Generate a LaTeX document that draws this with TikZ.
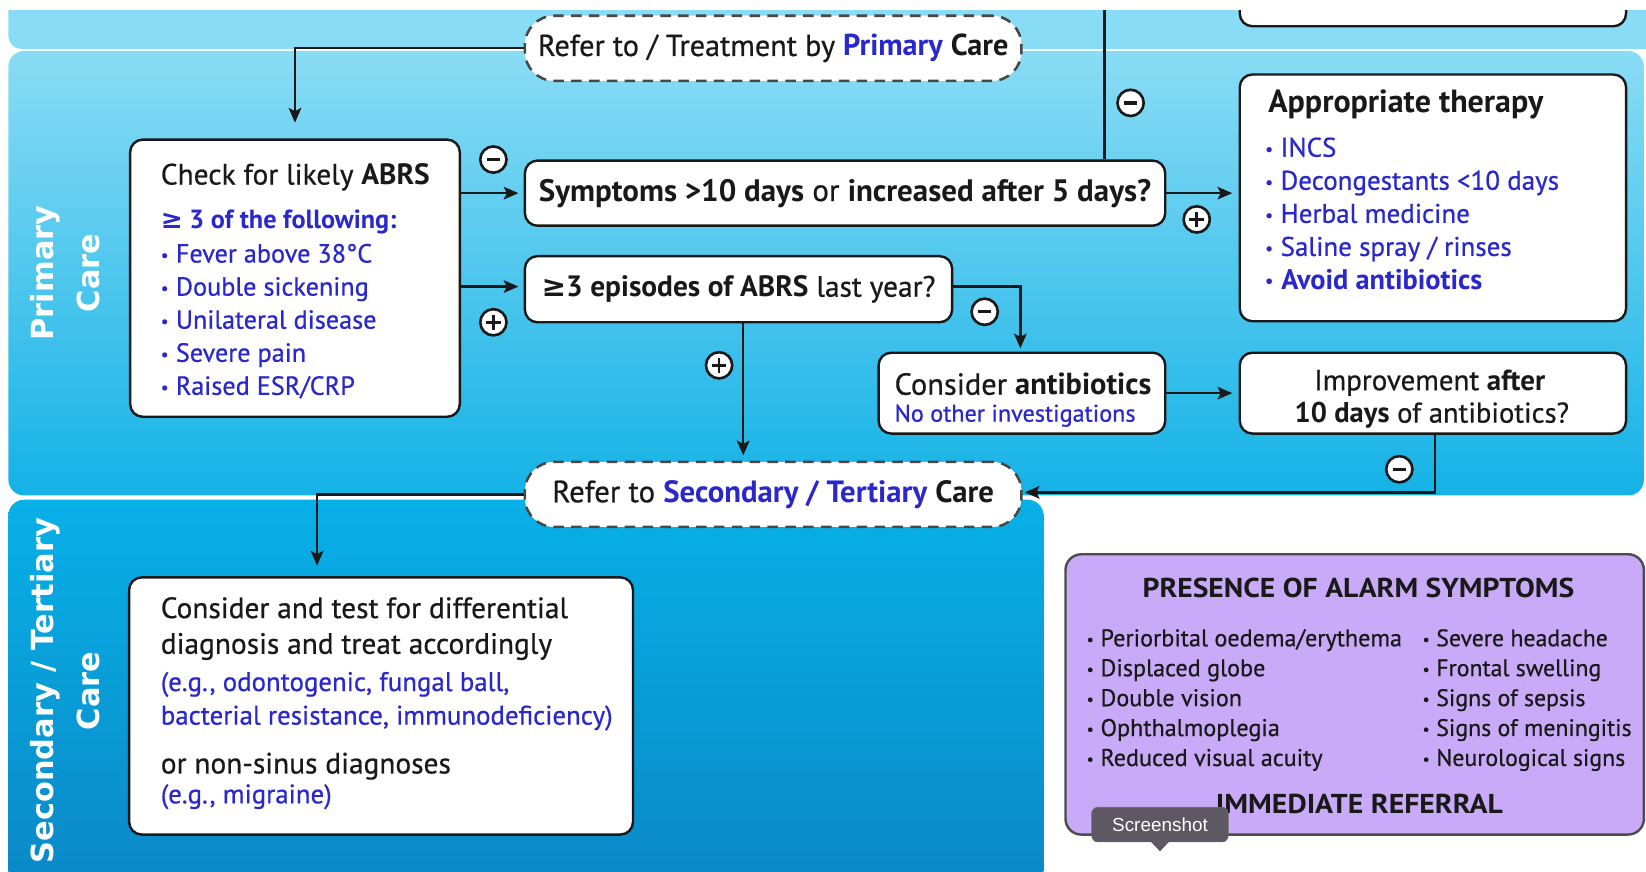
\documentclass[tikz,border=0pt]{standalone}
\usepackage{fontspec}
\usepackage{graphicx}
\setmainfont{PT Sans}[UprightFeatures={FakeBold=0.6}]
\newfontfamily\sidefont{DejaVu Sans}
\newfontfamily\symf{DejaVu Sans}
\newfontfamily\tipfont{Liberation Sans}
\usetikzlibrary{arrows.meta,calc}
\definecolor{blueT}{RGB}{42,40,205}
\definecolor{topblue}{RGB}{136,220,245}
\definecolor{pTop}{RGB}{138,220,245}
\definecolor{pBot}{RGB}{20,178,230}
\definecolor{sTop}{RGB}{8,176,232}
\definecolor{sBot}{RGB}{10,134,196}
\definecolor{purp}{RGB}{200,170,248}
\definecolor{tipgray}{RGB}{94,88,98}
\definecolor{ink}{RGB}{25,25,25}
\newcommand\fs[1]{\fontsize{#1}{#1}\selectfont}
\newcommand\bul{\raisebox{0.06em}{\scalebox{0.65}{•}}\hspace{0.28em}}
\newcommand\gesym{{\symf ≥}}
\begin{document}
\begin{tikzpicture}[x=1pt,y=-1pt,
  box/.style={draw=ink, line width=2.3pt, rounded corners=12pt, fill=white, inner sep=0pt},
  pill/.style={draw=black!72, line width=2.4pt, dash pattern=on 10pt off 7pt, rounded corners=28pt, fill=white, inner sep=0pt, text=ink},
  conn/.style={draw=ink, line width=2.3pt, -{Stealth[length=14pt,width=12pt,inset=3pt]}},
  plainline/.style={draw=ink, line width=2.3pt},
  sign/.style={circle, draw=ink, line width=2.5pt, fill=white, minimum size=25pt, inner sep=0pt},
  T/.style={inner sep=0pt, anchor=west, text=ink, font=\fs{#1}, text height={0.7*#1pt}, text depth={0.25*#1pt}, yshift=-3.5pt},
  T/.default=28,
  side/.style={font=\sidefont\bfseries\fontsize{29}{44}\selectfont, text=white, rotate=90, inner sep=0pt, align=center},
]
\useasboundingbox (0,0) rectangle (1568,830);
\clip (0,0) rectangle (1568,830);
% ---------- background bands
\begin{scope}
\clip (0,10) rectangle (1568,830);
\fill[topblue, rounded corners=12pt] (8,-30) rectangle (1600,46.5);
\end{scope}
\shade[top color=pTop, bottom color=pBot, rounded corners=15pt] (8,48.5) rectangle (1566,472);
\shade[top color=sTop, bottom color=sBot, rounded corners=15pt] (8,476) rectangle (994,870);
% cut box at the top right
\begin{scope}
\clip (0,10) rectangle (1568,830);
\node[box, minimum width=368, minimum height=60] (prev) at (1365,-5) {};
\end{scope}
% ---------- side labels
\node[side] (lprim) at (62,260) {Primary\\Care};
\node[side] (lsec) at (62,658) {Secondary / Tertiary\\Care};
% ---------- boxes
\node[pill, minimum width=473, minimum height=62, font=\fs{28.8}] (ref1) at (736.5,46) {Refer to / Treatment by \textbf{\color{blueT}Primary} \textbf{Care}};
\node[box, minimum width=314, minimum height=264] (check) at (281,265) {};
\node[box, minimum width=610, minimum height=62, font=\fs{29.5}, text=ink] (symp) at (805,184) {\textbf{Symptoms >10 days} or \textbf{increased after 5 days?}};
\node[box, minimum width=407, minimum height=63, font=\fs{28}, text=ink] (epi) at (703.5,275.5) {\textbf{\gesym3 episodes of ABRS} last year?};
\node[box, minimum width=368, minimum height=235] (ther) at (1365,188.5) {};
\node[box, minimum width=273, minimum height=77] (abx) at (973.5,374.5) {};
\node[box, minimum width=368, minimum height=77] (impr) at (1365,374.5) {};
\node[pill, minimum width=473, minimum height=62, font=\fs{29.3}] (ref2) at (736.5,471) {Refer to \textbf{\color{blueT}Secondary / Tertiary} \textbf{Care}};
\node[box, minimum width=480, minimum height=245] (diff) at (363,672.5) {};
\node[box, draw=black!70, fill=purp, rounded corners=15pt, minimum width=551, minimum height=267] (alarm) at (1290.5,661.5) {};
% ---------- texts: check
\node[T] (c0) at (153,166) {Check for likely \textbf{ABRS}};
\node[T=25, text=blueT] (c1) at (153,209) {\textbf{\gesym\ 3 of the following:}};
\foreach \t [count=\i] in {Fever above 38°C, Double sickening, Unilateral disease, Severe pain, Raised ESR/CRP}
  \node[T=25, text=blueT] (cb\i) at (153,{241+31.5*(\i-1)}) {\bul\t};
% therapy
\node[T=30.5] (t0) at (1208,97) {\textbf{Appropriate therapy}};
\foreach \t [count=\i] in {INCS, Decongestants <10 days, Herbal medicine, Saline spray / rinses}
  \node[T=25.7, text=blueT] (tb\i) at (1205,{140+31.5*(\i-1)}) {\bul\t};
\node[T=27, text=blueT] (tb5) at (1205,266) {\textbf{\bul Avoid antibiotics}};
% antibiotics
\node[T=29] (a1) at (852,366) {Consider \textbf{antibiotics}};
\node[T=23, text=blueT] (a2) at (852,393) {No other investigations};
% improvement
\node[T=27.6, anchor=center] (i1) at (1362,362) {Improvement \textbf{after}};
\node[T=27.2, anchor=center] (i2) at (1364,393) {\textbf{10 days} of antibiotics?};
% differential
\node[T] (d1) at (153,579) {Consider and test for differential};
\node[T] (d2) at (153,613) {diagnosis and treat accordingly};
\node[T=25.6, text=blueT] (d3) at (153,649) {(e.g., odontogenic, fungal ball,};
\node[T=25.6, text=blueT] (d4) at (153,681) {bacterial resistance, immunodeficiency)};
\node[T] (d5) at (153,727) {or non-sinus diagnoses};
\node[T=25.6, text=blueT] (d6) at (153,756) {(e.g., migraine)};
% alarm
\node[T=26, anchor=center] (al0) at (1294,560) {\scalebox{1.085}[1]{\textbf{PRESENCE OF ALARM SYMPTOMS}}};
\foreach \t [count=\i] in {Periorbital oedema/erythema, Displaced globe, Double vision, Ophthalmoplegia, Reduced visual acuity}
  \node[T=23] (al\i) at (1035,{607+28.5*(\i-1)}) {\bul\t};
\foreach \t [count=\i] in {Severe headache, Frontal swelling, Signs of sepsis, Signs of meningitis, Neurological signs}
  \node[T=22.7] (ar\i) at (1355,{607+28.5*(\i-1)}) {\bul\t};
\node[T=26, anchor=center] (alb) at (1295,766) {\scalebox{1.09}[1]{\textbf{IMMEDIATE REFERRAL}}};
% tooltip
\node[fill=tipgray, draw=black!60, line width=0.6pt, rounded corners=6pt, minimum width=130, minimum height=33, inner sep=0pt, text=white, font=\tipfont\fs{18}] (tip) at (1105,785.5) {Screenshot};
\fill[tipgray] (1096,801.5) -- (1114,801.5) -- (1105,811) -- cycle;
% ---------- connectors
\coordinate (topexit) at (1052,9.5);
\draw[plainline] (topexit |- symp.north) -- (topexit);
\draw[conn, shorten >=15pt] (ref1.west) -| (check.north);
\draw[conn, shorten >=5pt] (check.east |- symp.west) -- (symp.west);
\draw[conn, shorten >=5pt] (check.east |- 0,273) -- (epi.west |- 0,273);
\draw[conn, shorten >=6pt] (symp.east) -- (ther.west |- symp.east);
\draw[conn, shorten >=3pt] (epi.east |- 0,273) -| ([xshift=-1.5pt]abx.north);
\draw[conn, shorten >=5pt] ([xshift=4.5pt]epi.south) -- ([xshift=4.5pt]epi.south |- ref2.north);
\draw[conn, shorten >=6pt] (abx.east) -- (impr.west);
\draw[conn, shorten >=2pt] ([xshift=2pt]impr.south) |- ([yshift=2pt]ref2.east);
\draw[conn, shorten >=10pt] (ref2.west) -| ([xshift=-61pt]diff.north);
% ---------- signs
\newcommand\minussign[2]{\node[sign] (#1) at (#2) {};
  \draw[ink, line width=3.2pt] ([xshift=-6pt]#1.center) -- ([xshift=6pt]#1.center);}
\newcommand\plussign[2]{\node[sign] (#1) at (#2) {};
  \draw[ink, line width=2.4pt] ([xshift=-7pt]#1.center) -- ([xshift=7pt]#1.center) ([yshift=-7pt]#1.center) -- ([yshift=7pt]#1.center);}
\minussign{s1}{470,152}
\plussign{s2}{470,307}
\plussign{s3}{1140,209}
\minussign{s4}{1077,98}
\minussign{s5}{938,297}
\plussign{s6}{685,348}
\minussign{s7}{1333,447}
\end{tikzpicture}
\end{document}
